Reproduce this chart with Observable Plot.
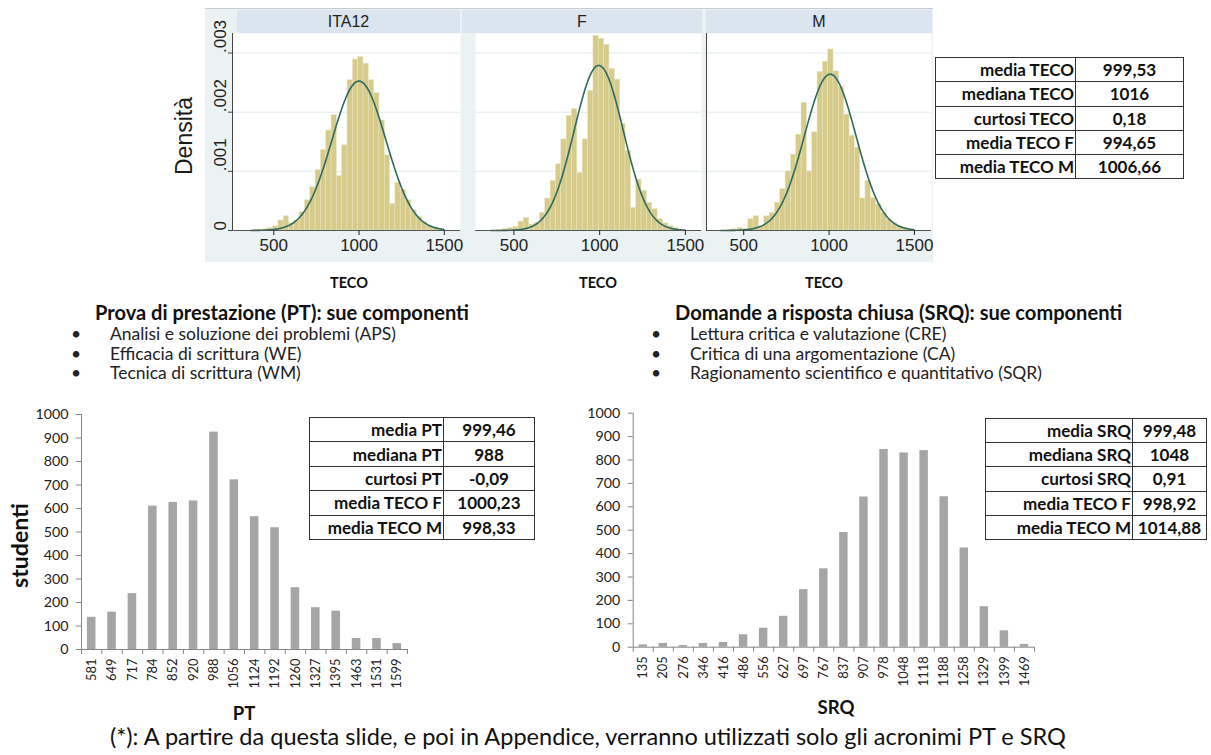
<!DOCTYPE html>
<html><head><meta charset="utf-8">
<script src="https://cdn.jsdelivr.net/npm/d3@7"></script>
<script src="https://cdn.jsdelivr.net/npm/@observablehq/plot@0.6"></script>
<style>
html,body{margin:0;padding:0;background:#fff;}
#page{position:relative;width:1211px;height:755px;overflow:hidden;background:#fff;font-family:Lato,"Open Sans",sans-serif;color:#000;}
table.stat{position:absolute;border-collapse:collapse;table-layout:fixed;font-family:Lato,sans-serif;font-weight:bold;color:#111;}
table.stat td{border:1.5px solid #333;padding:0;line-height:1;white-space:nowrap;overflow:hidden;}
table.stat td.k{text-align:right;padding-right:1px;}
table.stat td.v{text-align:center;}
</style></head>
<body><div id="page"></div>
<script>
// ---------------- DATA ----------------
const tecoPanels = ["ITA12", "F", "M"];
const binStart = [370.8, 402.0, 433.2, 464.4, 495.6, 526.8, 558.0, 589.2, 620.4, 651.6, 682.8, 714.0, 745.2, 776.4, 807.6, 838.8, 870.0, 901.2, 932.4, 963.6, 994.8, 1026.0, 1057.2, 1088.4, 1119.6, 1150.8, 1182.0, 1213.2, 1244.4, 1275.6, 1306.8, 1338.0, 1369.2, 1400.4, 1431.6, 1462.8];
const binWidth = 31.2;
const densITA12 = [0.00001, 0.00001, 0.00002, 0.00004, 0.00007, 0.00017, 0.00024, 0.00012, 0.00017, 0.00031, 0.00051, 0.00073, 0.00102, 0.00136, 0.00169, 0.00195, 0.00092, 0.00144, 0.00254, 0.00289, 0.00293, 0.00282, 0.00254, 0.00232, 0.00186, 0.00127, 0.00045, 0.00080, 0.00069, 0.00051, 0.00034, 0.00023, 0.00014, 0.00008, 0.00005, 0.00002];
const densF = [0, 0.00001, 0.00002, 0.00004, 0.00006, 0.00015, 0.00021, 0.00010, 0.00013, 0.00030, 0.00054, 0.00084, 0.00112, 0.00154, 0.00194, 0.00205, 0.00097, 0.00154, 0.00236, 0.00329, 0.00324, 0.00314, 0.00273, 0.00255, 0.00180, 0.00134, 0.00038, 0.00086, 0.00067, 0.00047, 0.00036, 0.00019, 0.00012, 0.00007, 0.00004, 0.00001];
const densM = [0, 0.00001, 0.00002, 0.00004, 0.00003, 0.00019, 0.00024, 0.00007, 0.00024, 0.00030, 0.00047, 0.00070, 0.00100, 0.00128, 0.00162, 0.00216, 0.00100, 0.00166, 0.00268, 0.00285, 0.00306, 0.00269, 0.00243, 0.00196, 0.00160, 0.00140, 0.00054, 0.00084, 0.00055, 0.00044, 0.00030, 0.00019, 0.00012, 0.00007, 0.00004, 0.00001];
const normMean = [999.53, 994.65, 1006.66];
const normSd = [158, 143, 151];
const normRange = [365, 1500];
const densTicks = [0, 0.001, 0.002, 0.003];
const tecoTicks = [500, 1000, 1500];

const tecoStatLabels = ["media TECO", "mediana TECO", "curtosi TECO", "media TECO F", "media TECO M"];
const tecoStatValues = ["999,53", "1016", "0,18", "994,65", "1006,66"];

const ptBins = ["581", "649", "717", "784", "852", "920", "988", "1056", "1124", "1192", "1260", "1327", "1395", "1463", "1531", "1599"];
const ptCounts = [137, 159, 238, 610, 626, 632, 925, 722, 565, 518, 263, 178, 163, 47, 47, 25];
const ptStatLabels = ["media PT", "mediana PT", "curtosi PT", "media TECO F", "media TECO M"];
const ptStatValues = ["999,46", "988", "-0,09", "1000,23", "998,33"];

const srqBins = ["135", "205", "276", "346", "416", "486", "556", "627", "697", "767", "837", "907", "978", "1048", "1118", "1188", "1258", "1329", "1399", "1469"];
const srqCounts = [10, 16, 7, 16, 20, 53, 81, 132, 246, 335, 490, 642, 845, 830, 840, 643, 424, 173, 70, 12];
const srqStatLabels = ["media SRQ", "mediana SRQ", "curtosi SRQ", "media TECO F", "media TECO M"];
const srqStatValues = ["999,48", "1048", "0,91", "998,92", "1014,88"];

const countTicks = [0, 100, 200, 300, 400, 500, 600, 700, 800, 900, 1000];

const ptTitle = "Prova di prestazione (PT): sue componenti";
const ptBullets = ["Analisi e soluzione dei problemi (APS)", "Efficacia di scrittura (WE)", "Tecnica di scrittura (WM)"];
const srqTitle = "Domande a risposta chiusa (SRQ): sue componenti";
const srqBullets = ["Lettura critica e valutazione (CRE)", "Critica di una argomentazione (CA)", "Ragionamento scientifico e quantitativo (SQR)"];
const caption = "(*): A partire da questa slide, e poi in Appendice, verranno utilizzati solo gli acronimi PT e SRQ";

// ---------------- LAYOUT ----------------
const page = d3.select("#page");
const ctx = document.createElement("canvas").getContext("2d");
function fitSize(text, weight, family, target) {
  ctx.font = `${weight} 100px ${family}`;
  return 100 * target / ctx.measureText(text).width;
}
function absDiv(x, y, w, h) {
  return page.append("div").style("position", "absolute").style("left", x + "px").style("top", y + "px")
    .style("width", w + "px").style("height", h + "px");
}

// Stata-like background
absDiv(205, 8, 728, 254).style("background", "#eaf2f3").style("border-top", "1px solid #c5cbce").style("box-sizing", "border-box");

const panelLayout = [
  {left: 205, plotLeft: 232, plotRight: 460, headL: 237, headR: 460, dom: [258, 1595], yAxis: true, leftLine: true},
  {left: 462, plotLeft: 475, plotRight: 701, headL: 462, headR: 701.7, dom: [276, 1594], yAxis: false, leftLine: false},
  {left: 704, plotLeft: 706, plotRight: 931, headL: 706, headR: 931.7, dom: [282, 1600], yAxis: false, leftLine: true}
];
const densities = [densITA12, densF, densM];
const stataFont = "'Liberation Sans', Arial, sans-serif";
function npdf(x, m, s) { return Math.exp(-0.5 * ((x - m) / s) ** 2) / (s * Math.sqrt(2 * Math.PI)); }
const densFmt = d => d === 0 ? "0" : d3.format(".3f")(d).slice(1);

tecoPanels.forEach((name, i) => {
  const L = panelLayout[i];
  absDiv(L.headL, 10, L.headR - L.headL, 23).style("background", "#dbe5f0")
    .style("font-family", stataFont).style("font-size", "16px").style("line-height", "23px")
    .style("text-align", "center").style("color", "#222").text(name);
  const bins = binStart.map((b, j) => ({x1: b, x2: b + binWidth, d: densities[i][j]}));
  const curve = d3.range(normRange[0], normRange[1] + 0.1, 4).map(x => ({x, y: npdf(x, normMean[i], normSd[i])}));
  const marks = [
    Plot.frame({fill: "white", stroke: "none"}),
    Plot.gridY(densTicks.slice(1), {stroke: "#e2eaee", strokeOpacity: 1}),
    Plot.rectY(bins, {x1: "x1", x2: "x2", y: "d", fill: "#d6cb8b", stroke: "#ebe4bc", strokeWidth: 0.5}),
    Plot.line(curve, {x: "x", y: "y", stroke: "#2c6b60", strokeWidth: 1.6}),
    Plot.ruleY([0], {stroke: "#555"}),
    Plot.axisX({ticks: tecoTicks, tickSize: 5, tickPadding: 3, fontSize: 17, label: null, color: "#222", tickFormat: d => String(d)})
  ];
  if (L.leftLine) marks.push(Plot.ruleX([L.dom[0]], {stroke: "#444"}));
  if (L.yAxis) {
    marks.push(Plot.axisY({ticks: densTicks, tickSize: 4, tickFormat: () => "", label: null, color: "#444"}));
    marks.push(Plot.text(densTicks, {y: d => d, text: densFmt, frameAnchor: "left", rotate: -90, dx: -11.5, fontSize: 17, fill: "#222"}));
  }
  const chart = Plot.plot({
    width: L.plotRight - L.left, height: 229,
    marginLeft: L.plotLeft - L.left, marginRight: 0, marginTop: 0, marginBottom: 32,
    x: {domain: L.dom}, y: L.yAxis ? {domain: [0, 0.00333]} : {domain: [0, 0.00333], axis: null},
    style: {background: "transparent", fontFamily: stataFont, overflow: "visible"},
    marks
  });
  absDiv(L.left, 33, L.plotRight - L.left, 229).node().append(chart);
});

// Bar charts
function barChart(labels, counts, cfg) {
  const n = labels.length;
  const data = labels.map((l, i) => ({i, l, c: counts[i]}));
  const yFs = fitSize("1000", "normal", "Lato", 33);
  const xFs = fitSize("1056", "normal", "Lato", 30);
  const chart = Plot.plot({
    width: cfg.width, height: 310,
    marginLeft: cfg.ml, marginRight: cfg.mr, marginTop: cfg.mt, marginBottom: 310 - cfg.mt - cfg.ph,
    x: {domain: [0, n]}, y: {domain: [0, 1000]},
    style: {background: "transparent", fontFamily: "Lato, sans-serif", overflow: "visible"},
    marks: [
      Plot.rectY(data, {x1: d => d.i + 0.29, x2: d => d.i + 0.71, y: "c", fill: "#a5a5a5"}),
      Plot.ruleY([0], {stroke: "#868686"}),
      Plot.ruleX([0], {stroke: "#868686"}),
      Plot.axisY({ticks: countTicks, tickSize: 5, tickPadding: 8, fontSize: yFs, label: null, stroke: "#868686", fill: "#222", tickFormat: d => String(d)}),
      Plot.axisX({ticks: d3.range(n + 1), tickSize: 5, tickFormat: () => "", label: null, stroke: "#868686"}),
      Plot.axisX({ticks: data.map(d => d.i + 0.5), tickSize: 0, tickPadding: 9, tickRotate: -90,
        tickFormat: v => labels[Math.floor(v)], fontSize: xFs, label: null, fill: "#222"})
    ]
  });
  absDiv(cfg.left, 400, cfg.width, 310).node().append(chart);
}
barChart(ptBins, ptCounts, {left: 0, width: 420, ml: 81, mr: 13, mt: 14, ph: 235});
barChart(srqBins, srqCounts, {left: 560, width: 490, ml: 72.7, mr: 16, mt: 12.7, ph: 234});

// Text overlay
const ov = page.append("svg").attr("width", 1211).attr("height", 755)
  .style("position", "absolute").style("left", 0).style("top", 0).style("pointer-events", "none");
function txt(s, x, y, size, o = {}) {
  const t = ov.append("text").attr("x", x).attr("y", y).attr("font-size", size)
    .attr("font-family", o.family || "Lato, sans-serif").attr("font-weight", o.weight || "normal")
    .attr("text-anchor", o.anchor || "start").attr("fill", o.fill || "#111").text(s);
  if (o.rotate) t.attr("transform", `rotate(${o.rotate},${x},${y})`);
  return t;
}
// Densità
const densFs = fitSize("Densità", "normal", "'Liberation Sans'", 78);
txt("Densità", 192, 136, densFs, {family: stataFont, anchor: "middle", rotate: -90, fill: "#1a1a1a"});
// TECO axis titles
const tecoFs = fitSize("TECO", "bold", "Lato", 38);
[349, 598, 824].forEach(x => txt("TECO", x, 288, tecoFs, {weight: "bold", anchor: "middle"}));

// Section titles and bullets
const titleFs = fitSize("Domande a risposta chiusa (SRQ):", "bold", "Lato", 300);
txt(ptTitle, 95, 319.5, titleFs, {weight: "bold"});
txt(srqTitle, 675, 319.5, titleFs, {weight: "bold"});
const bulletFs = fitSize(ptBullets[0], "normal", "Lato", 286);
[340, 359.5, 379].forEach((y, k) => {
  txt("•", 76, y, bulletFs, {anchor: "middle", fill: "#222"});
  txt(ptBullets[k], 110, y, bulletFs, {fill: "#222"});
  txt("•", 656, y, bulletFs, {anchor: "middle", fill: "#222"});
  txt(srqBullets[k], 690, y, bulletFs, {fill: "#222"});
});
// axis titles for bar charts
const studFs = fitSize("studenti", "bold", "Lato", 85);
txt("studenti", 28, 545.5, studFs, {weight: "bold", anchor: "middle", rotate: -90});
const ptFs = fitSize("SRQ", "bold", "Lato", 37);
txt("PT", 244, 719.5, ptFs, {weight: "bold", anchor: "middle"});
txt("SRQ", 836, 714, ptFs, {weight: "bold", anchor: "middle"});
// caption
const capFs = fitSize(caption, "normal", "Lato", 960);
txt(caption, 588, 745, capFs, {anchor: "middle"});

// Tables
const tableFs = fitSize("media TECO M", "bold", "Lato", 115);
function statTable(x, y, w1, w2, h, labels, values) {
  const t = page.append("table").attr("class", "stat").style("left", x + "px").style("top", y + "px")
    .style("width", (w1 + w2) + "px").style("font-size", tableFs + "px");
  const cg = t.append("colgroup");
  cg.append("col").style("width", w1 + "px");
  cg.append("col").style("width", w2 + "px");
  labels.forEach((l, i) => {
    const tr = t.append("tr").style("height", h + "px");
    tr.append("td").attr("class", "k").text(l);
    tr.append("td").attr("class", "v").text(values[i]);
  });
}
statTable(935, 57, 140, 108, 24.3, tecoStatLabels, tecoStatValues);
statTable(309, 417, 134, 91, 24.4, ptStatLabels, ptStatValues);
statTable(985, 418, 147, 74, 24.2, srqStatLabels, srqStatValues);
</script>
</body></html>
